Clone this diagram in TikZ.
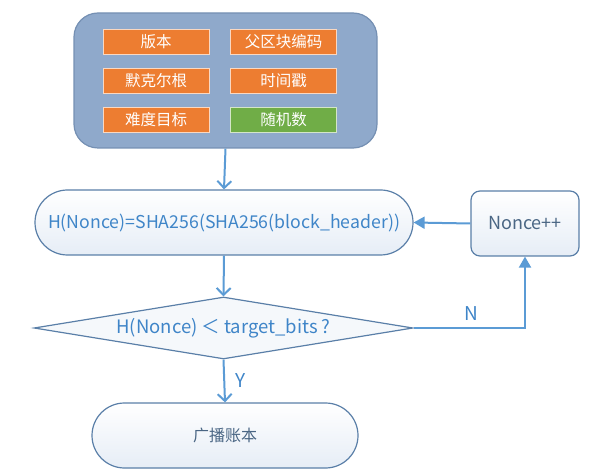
\documentclass[tikz,border=0pt]{standalone}
\usepackage{fontspec}
\setmainfont{Noto Sans CJK SC}
\usetikzlibrary{shapes.geometric,shapes.misc,arrows.meta}
\definecolor{lineblue}{HTML}{5B9BD5}
\definecolor{edgeblue}{HTML}{5A7FA8}
\definecolor{txtblue}{HTML}{3F85C8}
\definecolor{slate}{HTML}{4A6684}
\definecolor{boxfill}{HTML}{8FA9CB}
\definecolor{boxedge}{HTML}{7590B3}
\definecolor{orangef}{HTML}{ED7D31}
\definecolor{greenf}{HTML}{70AD47}
\definecolor{paleblue}{HTML}{E6EDF6}
\tikzset{
  field/.style={draw=white!70!orangef, line width=1pt, fill=orangef, text=white,
    minimum width=106pt, minimum height=25pt, inner sep=0pt, font=\fontsize{15.5}{15.5}\selectfont},
  flowbox/.style={draw=edgeblue, line width=1.2pt, top color=white, bottom color=paleblue,
    inner sep=0pt, font=\fontsize{17.7}{17.7}\selectfont},
  conn/.style={draw=lineblue, line width=2pt},
  vtip/.style={-{Straight Barb[length=7pt,width=14pt,line width=2pt]}},
  ttip/.style={-{Triangle[length=11pt,width=12pt]}},
  lbl/.style={text=txtblue, font=\fontsize{19}{19}\selectfont}
}
\begin{document}
\begin{tikzpicture}[x=1pt,y=-1pt]
\useasboundingbox (0,0) rectangle (600,470);
\node[draw=boxedge, line width=1.2pt, fill=boxfill, rounded corners=24pt,
  minimum width=303pt, minimum height=135pt, inner sep=0pt] (hdr) at (225.5,80.5) {};
\node[field] (f1) at (156,42) {版本};
\node[field] (f2) at (283.5,42) {父区块编码};
\node[field] (f3) at (156,81) {默克尔根};
\node[field] (f4) at (283.5,81) {时间戳};
\node[field] (f5) at (156,120) {难度目标};
\node[field, fill=greenf, draw=white!70!greenf] (f6) at (283.5,120) {随机数};
\node[flowbox, rounded rectangle, minimum width=378pt, minimum height=65pt, text=txtblue] (hash) at (224,222.5) {H(Nonce)=SHA256(SHA256(block\_header))};
\node[flowbox, rounded corners=9pt, minimum width=108pt, minimum height=65pt, text=slate, font=\fontsize{18}{18}\selectfont] (inc) at (525,223.5) {Nonce++};
\node[diamond, draw=edgeblue, line width=1.2pt, fill=white!60!paleblue, aspect=6,
  minimum width=379pt, minimum height=62pt, inner sep=0pt, text=txtblue,
  font=\fontsize{18.5}{18.5}\selectfont] (cmp) at (223.5,328) {H(Nonce) ＜ target\_bits ?};
\node[flowbox, rounded rectangle, minimum width=266pt, minimum height=65pt, text=slate, font=\fontsize{16}{16}\selectfont] (bc) at (225,435.5) {广播账本};
\draw[conn, vtip] (hdr.south) -- (hash.north);
\draw[conn, vtip] (hash.south) -- (cmp.north);
\draw[conn, vtip] (cmp.south) -- node[lbl, right=7pt, pos=0.48] (ylab) {Y} (bc.north);
\draw[conn, ttip] (inc.west) -- (hash.east);
\draw[conn, ttip] (cmp.east) -| node[lbl, pos=0.26, above=3pt] (nlab) {N} (inc.south);
\end{tikzpicture}
\end{document}
